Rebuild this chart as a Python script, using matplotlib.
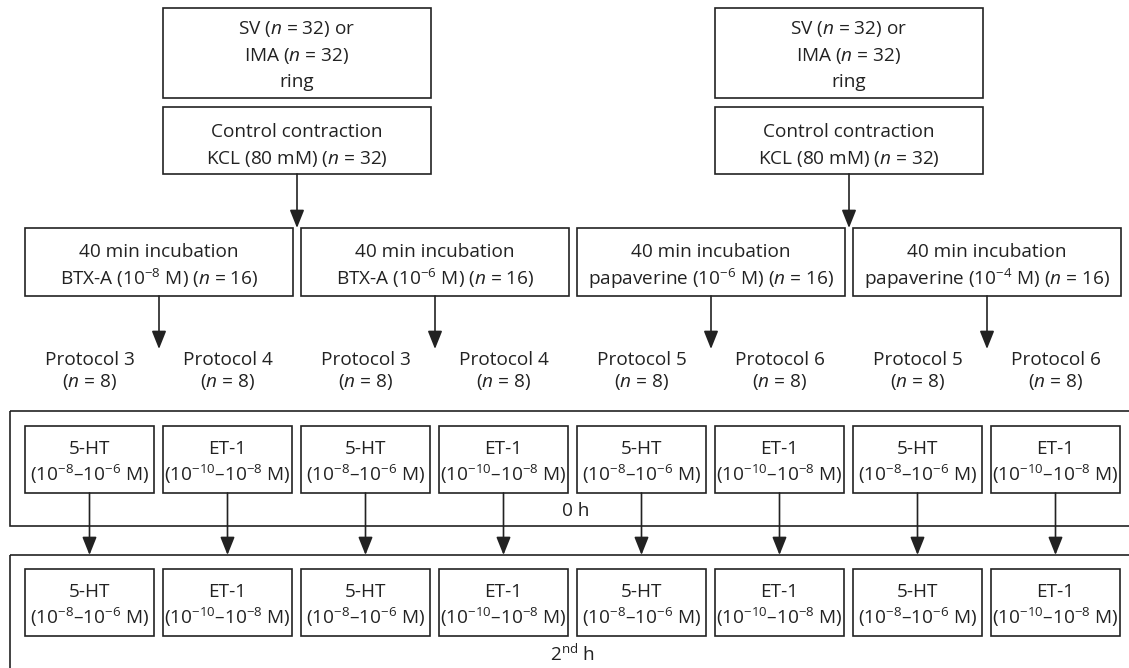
import matplotlib
matplotlib.use("Agg")
import matplotlib.pyplot as plt
from matplotlib.patches import Rectangle

plt.rcParams['font.family'] = ['Open Sans', 'DejaVu Sans']
plt.rcParams['mathtext.fontset'] = 'custom'
plt.rcParams['mathtext.rm'] = 'Open Sans'
plt.rcParams['mathtext.it'] = 'Open Sans:italic'

##### data #####
vessels = ["SV", "IMA"]
n_vessel = 32
kcl_mM = 80
incubation_agents = ["BTX-A", "BTX-A", "papaverine", "papaverine"]
incubation_exps = ["-8", "-6", "-6", "-4"]
n_incubation = 16
protocols = [3, 4, 3, 4, 5, 6, 5, 6]
n_protocol = 8
agonists = ["5-HT", "ET-1", "5-HT", "ET-1", "5-HT", "ET-1", "5-HT", "ET-1"]
agonist_ranges = {"5-HT": ("-8", "-6"), "ET-1": ("-10", "-8")}
time_labels = ["0 h", "2$^{\\rm nd}$ h"]

##### layout (pixels, y downwards) #####
col = "#222222"
lw = 1.2
fs = 13.7

fig = plt.figure(figsize=(11.29, 6.68), dpi=100)
ax = fig.add_axes([0, 0, 1, 1])
ax.set_xlim(0, 1129)
ax.set_ylim(668, 0)
ax.axis("off")


def box(x0, y0, x1, y1):
    ax.add_patch(Rectangle((x0, y0), x1 - x0, y1 - y0, fill=False, ec=col, lw=lw))


def arrow(x, y0, y1):
    ax.annotate("", xy=(x, y1), xytext=(x, y0),
                arrowprops=dict(arrowstyle="-|>,head_length=0.55,head_width=0.22",
                                color=col, lw=lw, shrinkA=0, shrinkB=0, mutation_scale=20))


def label(x, y, s, **kw):
    # y is the text baseline
    ax.text(x, y, s, ha="center", va="baseline", fontsize=fs, color=col, **kw)


def neg(e):
    return e.replace("-", "\u2212")


# top part: two identical stacks
for cx in [297, 849]:
    box(cx - 134, 8, cx + 134, 98)
    label(cx, 34, vessels[0] + " ($n$ = %d) or" % n_vessel)
    label(cx, 61, vessels[1] + " ($n$ = %d)" % n_vessel)
    label(cx, 87, "ring")
    box(cx - 134, 107, cx + 134, 174)
    label(cx, 137, "Control contraction")
    label(cx, 164, "KCL (%d mM) ($n$ = %d)" % (kcl_mM, n_vessel))
    arrow(cx, 174, 228)

# incubation row
inc_x0 = [25, 301, 577, 853]
for x0, agent, e in zip(inc_x0, incubation_agents, incubation_exps):
    box(x0, 228, x0 + 268, 296)
    cx = x0 + 134
    label(cx, 257, "40 min incubation")
    label(cx, 285, agent + " (10$^{%s}$ M) ($n$ = %d)" % (neg(e), n_incubation))
    arrow(cx, 296, 349)

# protocols and agonist boxes
small_x0 = [25 + 138 * i for i in range(8)]
for x0, p, ag in zip(small_x0, protocols, agonists):
    cx = x0 + 64.5
    label(cx, 365, "Protocol %d" % p)
    label(cx, 387, "($n$ = %d)" % n_protocol)
    lo, hi = agonist_ranges[ag]
    rng = "(10$^{%s}$\u201310$^{%s}$ M)" % (neg(lo), neg(hi))
    for y0 in [426, 569]:
        box(x0, y0, x0 + 129, y0 + 67)
        label(cx, y0 + 28, ag)
        label(cx, y0 + 55, rng)
    arrow(cx, 493, 555)

# time frames (run off the right and bottom edges)
ax.add_patch(Rectangle((10, 411), 1130, 115, fill=False, ec=col, lw=lw, clip_on=True))
ax.add_patch(Rectangle((10, 555), 1130, 130, fill=False, ec=col, lw=lw, clip_on=True))
label(576, 516, time_labels[0])
label(572, 661, time_labels[1])

plt.savefig("out.png", dpi=100)
